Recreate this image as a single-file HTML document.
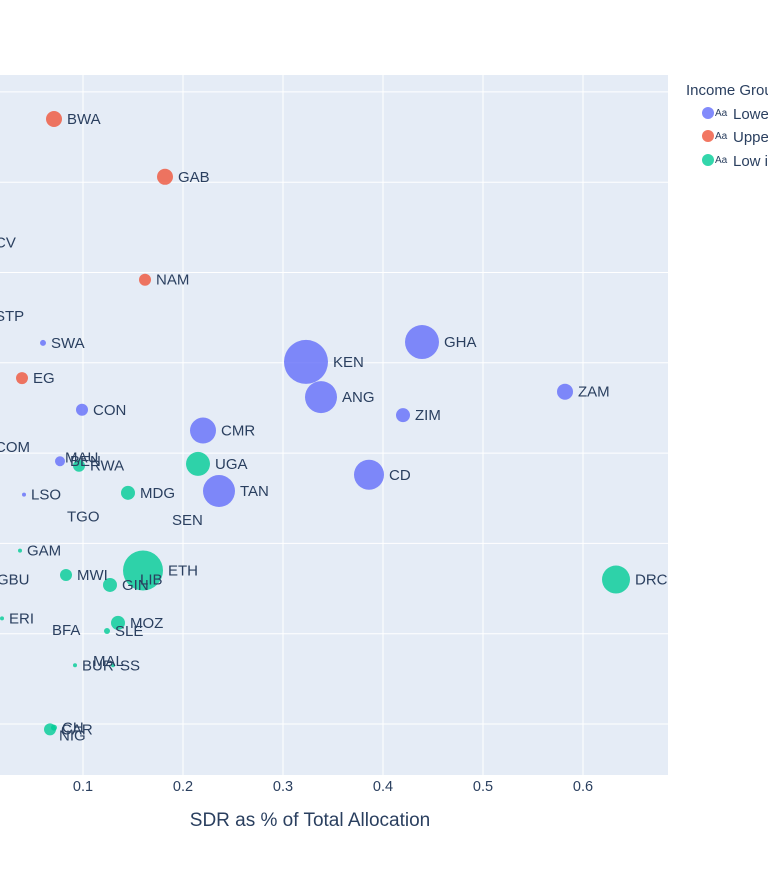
<!DOCTYPE html>
<html><head><meta charset="utf-8">
<style>
html,body{margin:0;padding:0;background:#fff;}
svg{display:block;font-family:"Liberation Sans",Arial,sans-serif;}
</style></head>
<body>
<svg id="chart" width="768" height="875" viewBox="0 0 768 875">
  <rect x="0" y="75" width="668" height="700" fill="#e5ecf6"/>
  <g id="grid"></g>
  <g id="marks"></g>
  <g id="labels"></g>
  <g id="xticks"></g>
  <text x="310" y="826" text-anchor="middle" font-size="19" fill="#2a3f5f">SDR as % of Total Allocation</text>
  <g>
    <text x="686" y="95" font-size="15" fill="#2a3f5f">Income Group</text>
    <g>
      <circle cx="708" cy="113" r="6" fill="#636efa" opacity="0.8"/>
      <text x="715" y="116" font-size="10" fill="#2a3f5f">Aa</text>
      <text x="733" y="119" font-size="15" fill="#2a3f5f">Lower middle income</text>
    </g>
    <g>
      <circle cx="708" cy="136" r="6" fill="#ef553b" opacity="0.8"/>
      <text x="715" y="139" font-size="10" fill="#2a3f5f">Aa</text>
      <text x="733" y="142" font-size="15" fill="#2a3f5f">Upper middle income</text>
    </g>
    <g>
      <circle cx="708" cy="160" r="6" fill="#00cc96" opacity="0.8"/>
      <text x="715" y="163" font-size="10" fill="#2a3f5f">Aa</text>
      <text x="733" y="166" font-size="15" fill="#2a3f5f">Low income</text>
    </g>
  </g>
</svg>
<script>
const countries = ["BWA","GAB","CV","NAM","STP","SWA","EG","CON","KEN","GHA","ANG","ZIM","ZAM","CMR","COM","BEN","MAU","RWA","UGA","TAN","CD","MDG","LSO","TGO","SEN","GAM","ETH","LIB","MWI","GIN","GBU","DRC","ERI","MOZ","SLE","BFA","BUR","MAL","SS","CAR","CH","NIG"];
const sdrShare = [0.071,0.182,0.007,0.162,0.007,0.060,0.039,0.099,0.323,0.439,0.338,0.420,0.582,0.220,0.007,0.077,0.077,0.096,0.215,0.236,0.386,0.145,0.041,0.079,0.184,0.037,0.160,0.152,0.083,0.127,0.009,0.633,0.019,0.135,0.124,0.064,0.092,0.105,0.130,0.067,0.071,0.071];
const yValue = [6.70,6.06,5.33,4.92,4.52,4.22,3.83,3.48,4.01,4.23,3.62,3.42,3.68,3.25,3.07,2.91,2.95,2.86,2.88,2.58,2.76,2.56,2.54,2.30,2.26,1.92,1.70,1.60,1.65,1.54,1.60,1.60,1.17,1.12,1.03,1.04,0.65,0.70,0.65,-0.06,-0.04,-0.13];
const groups = ["U","U","L","U","L","L","U","L","L","L","L","L","L","L","L","L","L","W","W","L","L","W","L","W","L","W","W","W","W","W","W","W","W","W","W","W","W","W","W","W","W","W"];
const sizes = [8,8,0,6,0,3,6,6,22,17,16,7,8,13,0,5,0,6,12,16,15,7,2,0,0,2,20,0,6,7,0,14,2,7,3,0,2,0,2,6,3,0];
const xTicks = [0.1,0.2,0.3,0.4,0.5,0.6];
const xTickLabels = ["0.1","0.2","0.3","0.4","0.5","0.6"];
const yGrid = [0,1,2,3,4,5,6,7];

const NS="http://www.w3.org/2000/svg";
const X = v => -17 + v*1000;
const Y = v => 724 - v*90.3;
const colors = {L:"#636efa",U:"#ef553b",W:"#00cc96"};
const grid=document.getElementById('grid'), marks=document.getElementById('marks'), labels=document.getElementById('labels'), xt=document.getElementById('xticks');
function mk(tag,attrs,parent){const e=document.createElementNS(NS,tag);for(const k in attrs)e.setAttribute(k,attrs[k]);parent.appendChild(e);return e;}
yGrid.forEach(v=>{
  const l=mk('line',{x1:0,x2:668,y1:Y(v),y2:Y(v),stroke:'#fff','stroke-width':1},grid);
  
  
});
xTicks.forEach((v,i)=>{
  const l=mk('line',{x1:X(v),x2:X(v),y1:75,y2:775,stroke:'#fff','stroke-width':1},grid);
  
  
  const t=mk('text',{x:X(v),y:791,'text-anchor':'middle','font-size':14.5,fill:'#2a3f5f'},xt);
  t.textContent=xTickLabels[i];
  
  
});
countries.forEach((c,i)=>{
  const cx=X(sdrShare[i]), cy=Y(yValue[i]), r=sizes[i];
  if(r>0){
    const p=mk('circle',{cx:cx,cy:cy,r:r,fill:colors[groups[i]],opacity:0.8},marks);
    
    
  }
  const t=mk('text',{x:cx+r+5,y:cy+5,'font-size':15,fill:'#2a3f5f'},labels);
  t.textContent=c;
  
  
});
</script>
</body></html>
